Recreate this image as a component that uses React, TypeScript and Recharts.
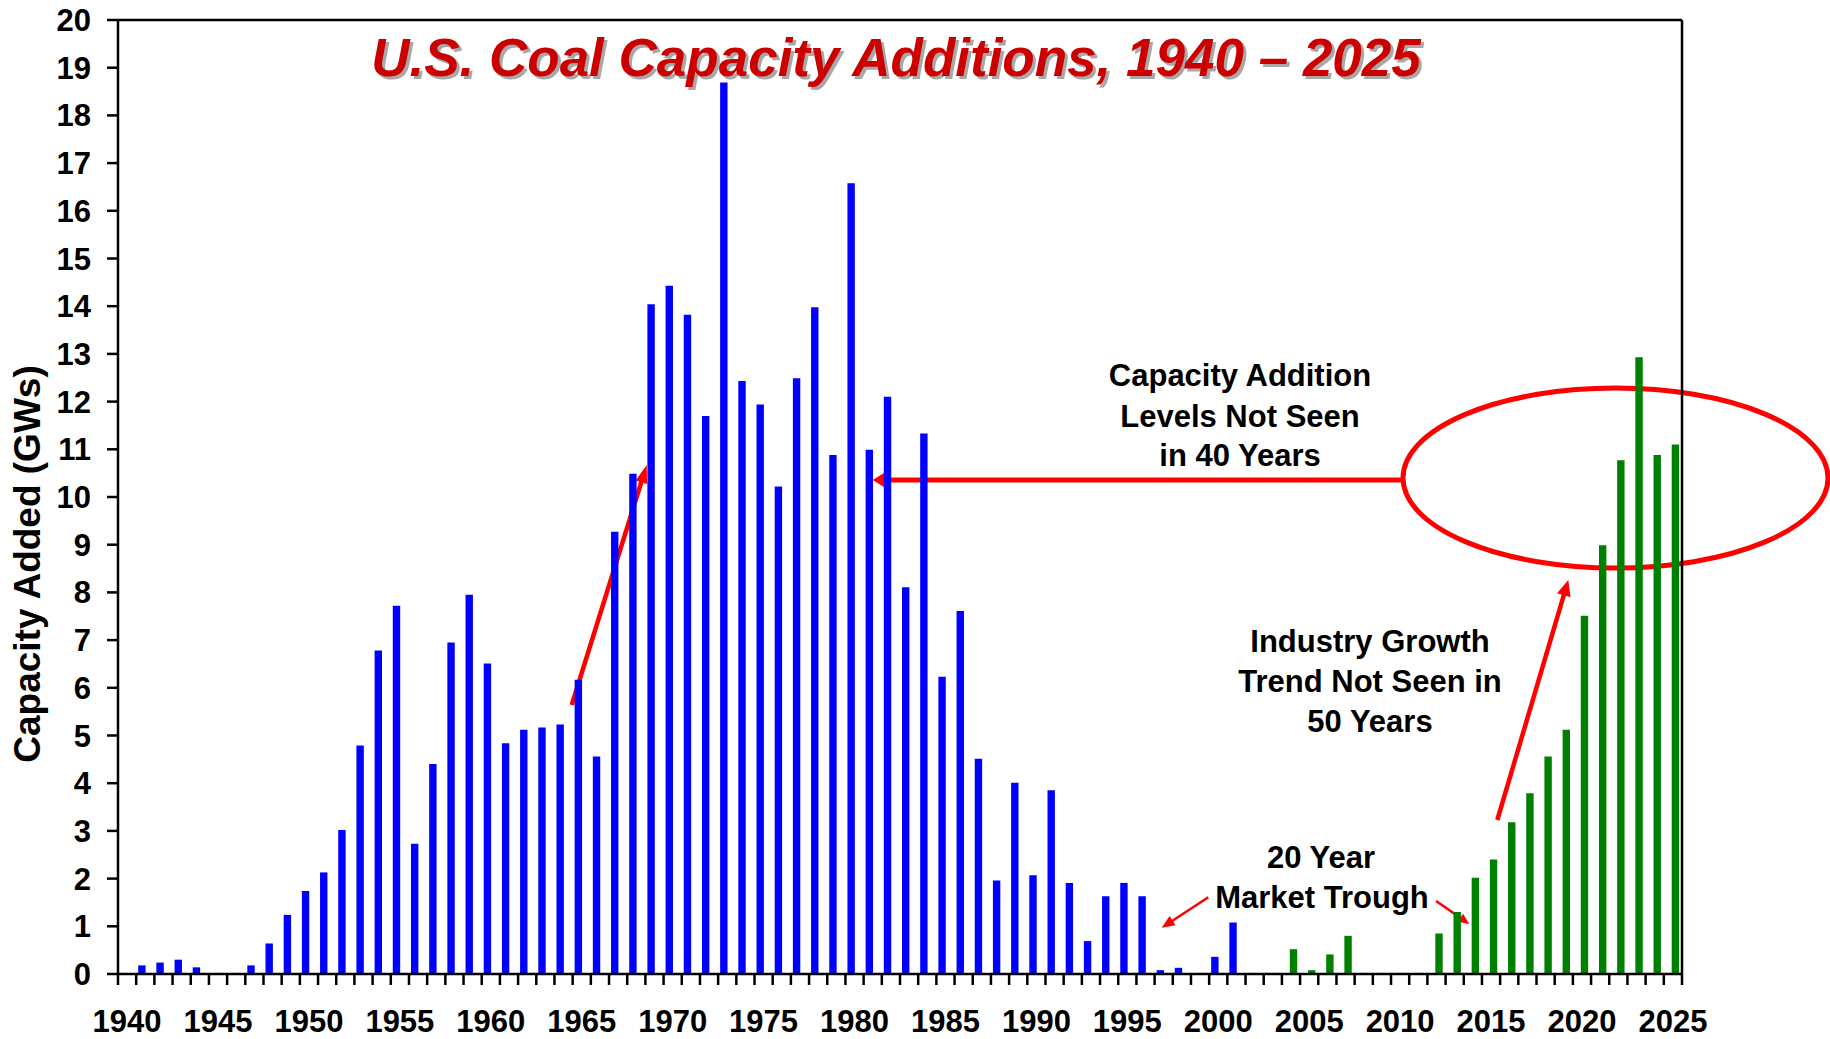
import React from 'react';
import { BarChart, Bar, XAxis, YAxis, CartesianGrid, ReferenceLine } from 'recharts';

// ---------- data ----------
const years: number[] = Array.from({ length: 86 }, (_, i) => 1940 + i);

// Blue series: 1940 - 2003
const blueValues: number[] = [
  0, 0.18, 0.24, 0.3, 0.14, 0, 0, 0.18, 0.64, 1.24,
  1.74, 2.13, 3.02, 4.79, 6.78, 7.72, 2.73, 4.4, 6.95, 7.95,
  6.51, 4.84, 5.12, 5.17, 5.23, 6.17, 4.56, 9.27, 10.49, 14.04,
  14.43, 13.82, 11.7, 18.69, 12.43, 11.94, 10.22, 12.49, 13.98, 10.88,
  16.58, 10.99, 12.1, 8.11, 11.33, 6.23, 7.61, 4.51, 1.96, 4.01,
  2.07, 3.85, 1.91, 0.69, 1.63, 1.91, 1.63, 0.08, 0.13, 0,
  0.36, 1.08, 0, 0,
];

// Green series: 2004 - 2025
const greenValues: number[] = [
  0.52, 0.08, 0.41, 0.8, 0, 0, 0, 0, 0.85, 1.3,
  2.02, 2.4, 3.18, 3.79, 4.56, 5.12, 7.51, 8.99, 10.77, 12.93,
  10.88, 11.1,
];

const yTicks: number[] = [0, 1, 2, 3, 4, 5, 6, 7, 8, 9, 10, 11, 12, 13, 14, 15, 16, 17, 18, 19, 20];
const labelEvery = 5;

const data = years.map((year, i) => ({
  year,
  blue: i < blueValues.length ? blueValues[i] : null,
  green: i >= blueValues.length ? greenValues[i - blueValues.length] : null,
}));

// ---------- layout ----------
const W = 1830;
const H = 1039;
const MARGIN = { top: 20, right: 147, bottom: 0, left: 8 };
const Y_AXIS_W = 110;
const Y_AXIS_R_W = 1;
const X_AXIS_H = 65;
const PLOT_W = W - MARGIN.left - MARGIN.right - Y_AXIS_W - Y_AXIS_R_W;
const HALF_BAND = PLOT_W / years.length / 2;
const FONT = 'Liberation Sans, Arial, Helvetica, sans-serif';
const RED = '#ff0000';

const XTick = (props: any) => {
  const { x, y, payload, index } = props;
  const half = HALF_BAND;
  const year = payload.value as number;
  return (
    <g>
      <line x1={x - half} x2={x - half} y1={y} y2={y + 11} stroke="#000" strokeWidth={2.5} />
      {index === years.length - 1 && (
        <line x1={x + half} x2={x + half} y1={y} y2={y + 11} stroke="#000" strokeWidth={2.5} />
      )}
      {year % labelEvery === 0 && (
        <text
          x={x}
          y={y + 57.5}
          textAnchor="middle"
          fontFamily={FONT}
          fontWeight="bold"
          fontSize={31}
          fill="#000"
        >
          {year}
        </text>
      )}
    </g>
  );
};

type ArrowProps = { x1: number; y1: number; x2: number; y2: number; w: number; hl: number; hw: number };
const Arrow = ({ x1, y1, x2, y2, w, hl, hw }: ArrowProps) => {
  const dx = x2 - x1;
  const dy = y2 - y1;
  const L = Math.hypot(dx, dy);
  const ux = dx / L;
  const uy = dy / L;
  const bx = x2 - ux * hl;
  const by = y2 - uy * hl;
  const px = -uy;
  const py = ux;
  return (
    <g>
      <line x1={x1} y1={y1} x2={bx + ux * 2} y2={by + uy * 2} stroke={RED} strokeWidth={w} />
      <polygon
        points={`${x2},${y2} ${bx + (px * hw) / 2},${by + (py * hw) / 2} ${bx - (px * hw) / 2},${by - (py * hw) / 2}`}
        fill={RED}
      />
    </g>
  );
};

const textStyle = { fontFamily: FONT, fontWeight: 'bold' as const, fontSize: 31, fill: '#000' };

const Annotations = () => (
  <svg width={W} height={H} style={{ position: 'absolute', left: 0, top: 0, overflow: 'visible' }}>
    <g transform="translate(8,8)">
      {/* title */}
      <text x={891} y={71} textAnchor="middle" fontFamily={FONT} fontWeight="bold" fontStyle="italic" fontSize={53} fill="#a8a8a8">
        U.S. Coal Capacity Additions, 1940 – 2025
      </text>
      <text x={888} y={68} textAnchor="middle" fontFamily={FONT} fontWeight="bold" fontStyle="italic" fontSize={53} fill="#cc0000">
        U.S. Coal Capacity Additions, 1940 – 2025
      </text>

      {/* y axis title */}
      <text transform="translate(32,556) rotate(-90)" textAnchor="middle" fontFamily={FONT} fontWeight="bold" fontSize={37} fill="#000">
        Capacity Added (GWs)
      </text>

      {/* text blocks */}
      <text x={1232} y={378} textAnchor="middle" {...textStyle}>Capacity Addition</text>
      <text x={1232} y={418.7} textAnchor="middle" {...textStyle}>Levels Not Seen</text>
      <text x={1232} y={457.7} textAnchor="middle" {...textStyle}>in 40 Years</text>

      <text x={1362} y={644} textAnchor="middle" {...textStyle}>Industry Growth</text>
      <text x={1362} y={684} textAnchor="middle" {...textStyle}>Trend Not Seen in</text>
      <text x={1362} y={724} textAnchor="middle" {...textStyle}>50 Years</text>

      <text x={1313} y={860.3} textAnchor="middle" {...textStyle}>20 Year</text>
      <text x={1314} y={900.3} textAnchor="middle" {...textStyle}>Market Trough</text>

      {/* ellipse */}
      <ellipse cx={1607.5} cy={470} rx={212.5} ry={90} fill="none" stroke={RED} strokeWidth={5} />

      {/* arrows */}
      <Arrow x1={563.7} y1={697} x2={638.7} y2={457} w={4.5} hl={18} hw={12} />
      <Arrow x1={1395} y1={472} x2={864.7} y2={472} w={5} hl={12} hw={15} />
      <Arrow x1={1489.3} y1={812} x2={1560.3} y2={572} w={4.5} hl={16} hw={14} />
      <Arrow x1={1200.3} y1={889.3} x2={1153.7} y2={919.7} w={2.5} hl={13} hw={11} />
      <Arrow x1={1428} y1={893} x2={1461.3} y2={916} w={2.5} hl={11} hw={10} />
    </g>
  </svg>
);

export default function App() {
  return (
    <div style={{ position: 'relative', width: W, height: H }}>
      <style>{'html,body{margin:0;padding:0;overflow:hidden}'}</style>
      <Annotations />
      <div style={{ position: 'absolute', left: 0, top: 0 }}>
        <BarChart width={W} height={H} data={data} margin={MARGIN} barGap={-1.5}>
          <CartesianGrid horizontal vertical={false} stroke="#c0c0c0" strokeWidth={2} />
          <XAxis
            dataKey="year"
            type="category"
            interval={0}
            height={X_AXIS_H}
            tickLine={false}
            tickSize={0}
            tickMargin={0}
            tick={<XTick />}
            axisLine={{ stroke: '#000', strokeWidth: 2.5 }}
          />
          <YAxis
            yAxisId="left"
            type="number"
            domain={[0, 20]}
            ticks={yTicks}
            interval={0}
            width={Y_AXIS_W}
            tickSize={11}
            tickMargin={16}
            tickLine={{ stroke: '#000', strokeWidth: 2.5 }}
            axisLine={{ stroke: '#000', strokeWidth: 2.5 }}
            tick={{ fontFamily: FONT, fontWeight: 'bold', fontSize: 31, fill: '#000' }}
            allowDataOverflow
          />
          <YAxis
            yAxisId="right"
            orientation="right"
            type="number"
            domain={[0, 20]}
            width={Y_AXIS_R_W}
            ticks={[0, 20]}
            tick={false}
            tickLine={false}
            axisLine={{ stroke: '#000', strokeWidth: 2.5 }}
            allowDataOverflow
          />
          <ReferenceLine yAxisId="left" y={20} stroke="#000" strokeWidth={2.5} />
          <Bar yAxisId="left" dataKey="blue" fill="#0000ff" barSize={7.4} isAnimationActive={false} />
          <Bar yAxisId="right" dataKey="green" fill="#008000" barSize={7.4} isAnimationActive={false} />
        </BarChart>
      </div>
    </div>
  );
}
